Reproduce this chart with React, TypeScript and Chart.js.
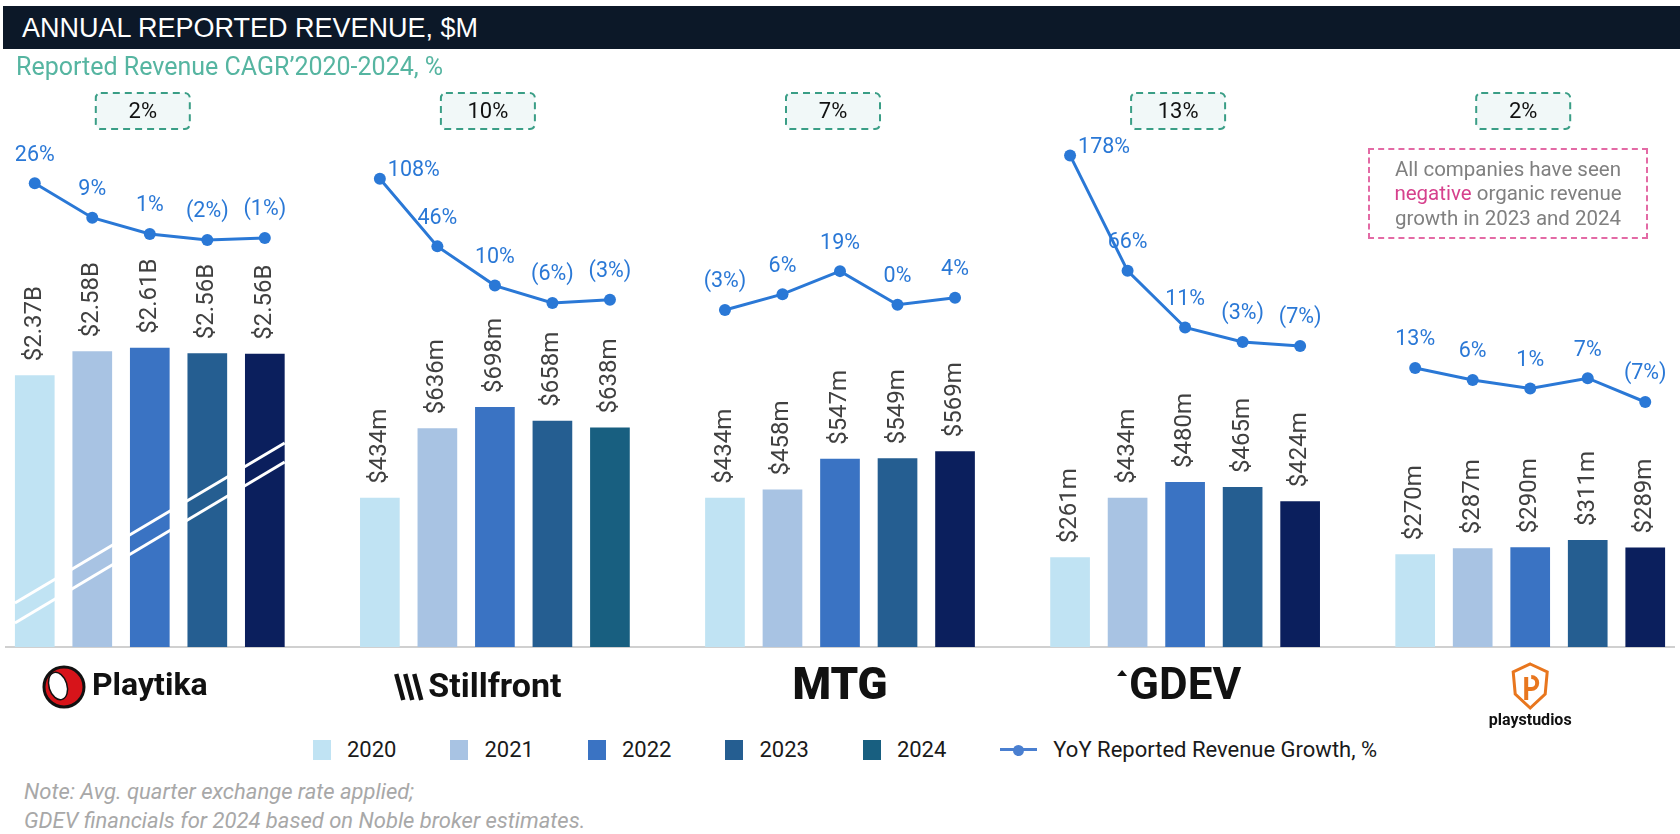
import React, { useEffect, useRef } from 'react';
import { Chart, registerables } from 'chart.js';

Chart.register(...registerables);

// ---------- data ----------
const COMPANIES = ['Playtika', 'Stillfront', 'MTG', 'GDEV', 'playstudios'];
const YEARS = ['2020', '2021', '2022', '2023', '2024'];

// Annual reported revenue, $m
const REVENUE_PLAYTIKA = [2370, 2580, 2610, 2563, 2557];
const REVENUE_STILLFRONT = [434, 636, 698, 658, 638];
const REVENUE_MTG = [434, 458, 547, 549, 569];
const REVENUE_GDEV = [261, 434, 480, 465, 424];
const REVENUE_PLAYSTUDIOS = [270, 287, 290, 311, 289];

// YoY reported revenue growth, %
const GROWTH_PLAYTIKA = [26, 9, 1, -2, -1];
const GROWTH_STILLFRONT = [108, 46, 10, -6, -3];
const GROWTH_MTG = [-3, 6, 19, 0, 4];
const GROWTH_GDEV = [178, 66, 11, -3, -7];
const GROWTH_PLAYSTUDIOS = [13, 6, 1, 7, -7];

// Reported revenue CAGR 2020-2024, %
const CAGR = [2, 10, 7, 13, 2];

const REVENUES = [REVENUE_PLAYTIKA, REVENUE_STILLFRONT, REVENUE_MTG, REVENUE_GDEV, REVENUE_PLAYSTUDIOS];
const GROWTHS = [GROWTH_PLAYTIKA, GROWTH_STILLFRONT, GROWTH_MTG, GROWTH_GDEV, GROWTH_PLAYSTUDIOS];

// ---------- styles / layout ----------
const YEAR_COLORS = ['#c0e3f3', '#a8c3e3', '#3a73c3', '#255e91', '#0b1f5d'];
const STILLFRONT_2024 = '#185f80';
const LEGEND_COLORS = ['#c0e3f3', '#a8c3e3', '#3a73c3', '#255e91', '#185f80'];
const LINE_BLUE = '#2a78d6';
const PLAYTIKA_BREAK = 3; // Playtika bars drawn at 1/3 scale (broken axis)
const BAR_AXIS_MAX = 1474;
const GROWTH_AXES = [
  [-202.5, 47.3],
  [-321.6, 143.6],
  [-193.4, 93.1],
  [-299.2, 193.0],
  [-151.1, 147.1],
];
const LOGO_FONTS = [
  { family: 'Roboto', weight: 'bold', size: 32, lineHeight: 1.2 },
  { family: 'Roboto', weight: 'bold', size: 34, lineHeight: 1.2 },
  { family: 'Roboto', weight: '900', size: 44, lineHeight: 0.9 },
  { family: 'Roboto', weight: 'bold', size: 44, lineHeight: 0.9 },
  { family: 'Roboto', weight: 'bold', size: 16, lineHeight: 2.2 },
];
const SLOT = YEARS.length + 1;

const fmtRevenue = (v: number) => (v >= 1000 ? `$${(v / 1000).toFixed(2)}B` : `$${v}m`);
const fmtGrowth = (v: number) => (v < 0 ? `(${-v}%)` : `${v}%`);

const LABELS: string[] = [];
COMPANIES.forEach((c, ci) => {
  YEARS.forEach((y) => LABELS.push(`${c} ${y}`));
  if (ci < COMPANIES.length - 1) LABELS.push('');
});

const decorPlugin = {
  id: 'decor',
  afterDatasetsDraw(chart: any) {
    const ctx = chart.ctx;
    const area = chart.chartArea;
    const xs = chart.scales.x;
    ctx.save();

    // axis-break marker on Playtika bars
    const first = chart.getDatasetMeta(0).data[0];
    const last = chart.getDatasetMeta(YEARS.length - 1).data[YEARS.length - 1];
    const left = first.x - first.width / 2;
    const right = last.x + last.width / 2;
    ctx.strokeStyle = '#ffffff';
    ctx.lineWidth = 3;
    [[44, 204], [24, 185]].forEach(([a, b]) => {
      ctx.beginPath();
      ctx.moveTo(left, area.bottom - a);
      ctx.lineTo(right, area.bottom - b);
      ctx.stroke();
    });

    // bar value labels (rotated)
    for (let d = 0; d < YEARS.length; d++) {
      const meta = chart.getDatasetMeta(d);
      meta.data.forEach((el: any, i: number) => {
        if (chart.data.datasets[d].data[i] == null) return;
        const c = Math.floor(i / SLOT);
        const v = REVENUES[c][d];
        ctx.save();
        ctx.translate(el.x, el.y - 14);
        ctx.rotate(-Math.PI / 2);
        ctx.font = '24px Roboto';
        ctx.fillStyle = '#404040';
        ctx.textAlign = 'left';
        ctx.textBaseline = 'middle';
        ctx.fillText(fmtRevenue(v), 0, 0);
        ctx.restore();
      });
    }

    // growth labels
    for (let c = 0; c < COMPANIES.length; c++) {
      const d = YEARS.length + c;
      const meta = chart.getDatasetMeta(d);
      meta.data.forEach((el: any, i: number) => {
        const v = chart.data.datasets[d].data[i];
        if (v == null) return;
        ctx.font = '21.5px Roboto';
        ctx.fillStyle = LINE_BLUE;
        ctx.textBaseline = 'middle';
        if (v >= 100) {
          ctx.textAlign = 'left';
          ctx.fillText(fmtGrowth(v), el.x + 8, el.y - 8);
        } else {
          ctx.textAlign = 'center';
          ctx.fillText(fmtGrowth(v), el.x, el.y - 28);
        }
      });
    }

    // CAGR boxes
    COMPANIES.forEach((_, c) => {
      const cx = xs.getPixelForValue(c * SLOT + 2) - 7;
      ctx.beginPath();
      ctx.setLineDash([7, 5]);
      ctx.lineWidth = 2;
      ctx.strokeStyle = '#3a9e86';
      ctx.fillStyle = '#f1f8f8';
      ctx.roundRect(cx - 47, 93, 94, 36, 5);
      ctx.fill();
      ctx.stroke();
      ctx.setLineDash([]);
      ctx.font = '22px Roboto';
      ctx.fillStyle = '#111111';
      ctx.textAlign = 'center';
      ctx.textBaseline = 'middle';
      ctx.fillText(`${CAGR[c]}%`, cx, 112);
    });

    // simple logo marks next to company names
    const y0 = area.bottom + 40;
    const tickX = (c: number) => xs.getPixelForValue(c * SLOT + 2);
    const textW = (c: number) => {
      const f = LOGO_FONTS[c];
      ctx.font = `${f.weight} ${f.size}px ${f.family}`;
      return ctx.measureText(COMPANIES[c]).width;
    };
    // Playtika
    {
      const lx = tickX(0) - textW(0) / 2 - 28;
      ctx.beginPath();
      ctx.arc(lx, y0, 20, 0, Math.PI * 2);
      ctx.fillStyle = '#d7141a';
      ctx.fill();
      ctx.lineWidth = 3;
      ctx.strokeStyle = '#111';
      ctx.stroke();
      ctx.beginPath();
      ctx.ellipse(lx - 6, y0 - 1, 9, 14, -0.3, 0, Math.PI * 2);
      ctx.fillStyle = '#ffffff';
      ctx.fill();
      ctx.lineWidth = 1.5;
      ctx.stroke();
    }
    // Stillfront
    {
      const lx = tickX(1) - textW(1) / 2 - 32;
      ctx.strokeStyle = '#111';
      ctx.lineWidth = 4.5;
      for (let k = 0; k < 3; k++) {
        ctx.beginPath();
        ctx.moveTo(lx + k * 9, y0 - 13);
        ctx.lineTo(lx + k * 9 + 7, y0 + 13);
        ctx.stroke();
      }
    }
    // GDEV
    {
      const lx = tickX(3) - textW(3) / 2;
      ctx.beginPath();
      ctx.moveTo(lx - 12, y0 - 11);
      ctx.lineTo(lx - 7, y0 - 17);
      ctx.lineTo(lx - 2, y0 - 11);
      ctx.closePath();
      ctx.fillStyle = '#111';
      ctx.fill();
    }
    // playstudios shield
    {
      const cx = tickX(4);
      const top = area.bottom + 17;
      ctx.beginPath();
      ctx.moveTo(cx, top);
      ctx.lineTo(cx + 17, top + 8);
      ctx.lineTo(cx + 15, top + 30);
      ctx.lineTo(cx, top + 44);
      ctx.lineTo(cx - 15, top + 30);
      ctx.lineTo(cx - 17, top + 8);
      ctx.closePath();
      ctx.fillStyle = '#ffffff';
      ctx.fill();
      ctx.strokeStyle = '#e8761e';
      ctx.lineWidth = 3;
      ctx.stroke();
      ctx.lineWidth = 4;
      ctx.beginPath();
      ctx.moveTo(cx - 4, top + 13);
      ctx.lineTo(cx - 4, top + 36);
      ctx.stroke();
      ctx.beginPath();
      ctx.arc(cx + 1, top + 19, 6, -Math.PI / 2, Math.PI / 2);
      ctx.lineTo(cx - 4, top + 25);
      ctx.stroke();
    }
    ctx.restore();
  },
};

function RevenueChart() {
  const ref = useRef<HTMLCanvasElement | null>(null);
  useEffect(() => {
    if (!ref.current) return;
    const barSets = YEARS.map((yr, y) => ({
      type: 'bar' as const,
      label: yr,
      data: LABELS.map((_, i) => {
        const c = Math.floor(i / SLOT);
        if (i % SLOT !== y) return null;
        const v = REVENUES[c][y];
        return c === 0 ? v / PLAYTIKA_BREAK : v;
      }),
      backgroundColor: (ctx: any) =>
        y === YEARS.length - 1 && Math.floor(ctx.dataIndex / SLOT) === 1 ? STILLFRONT_2024 : YEAR_COLORS[y],
      grouped: false,
      barPercentage: 0.69,
      categoryPercentage: 1,
      yAxisID: 'y',
      order: 1,
    }));
    const lineSets = COMPANIES.map((name, c) => ({
      type: 'line' as const,
      label: `YoY Reported Revenue Growth, % – ${name}`,
      data: LABELS.map((_, i) =>
        Math.floor(i / SLOT) === c && i % SLOT < YEARS.length ? GROWTHS[c][i % SLOT] : null
      ),
      borderColor: LINE_BLUE,
      backgroundColor: LINE_BLUE,
      pointBackgroundColor: LINE_BLUE,
      pointBorderWidth: 0,
      pointRadius: 6,
      pointHoverRadius: 6,
      borderWidth: 3,
      spanGaps: false,
      tension: 0,
      yAxisID: `g${c}`,
      order: 0,
    }));
    const growthScales: any = {};
    GROWTH_AXES.forEach(([min, max], c) => {
      growthScales[`g${c}`] = { type: 'linear', display: false, min, max };
    });

    const chart = new Chart(ref.current, {
      type: 'bar',
      data: { labels: LABELS, datasets: [...barSets, ...lineSets] as any },
      options: {
        animation: false,
        responsive: false,
        events: [],
        layout: { padding: { top: 140, left: 1, right: 3, bottom: 0 } },
        plugins: { legend: { display: false }, tooltip: { enabled: false } },
        scales: {
          x: {
            type: 'category',
            offset: true,
            grid: { display: true, drawOnChartArea: false, drawTicks: false, color: 'rgba(0,0,0,0)' },
            border: { display: true, color: '#d0d0d0', width: 2 },
            ticks: {
              autoSkip: false,
              maxRotation: 0,
              minRotation: 0,
              padding: 21,
              color: '#111111',
              font: (ctx: any) => LOGO_FONTS[Math.floor((ctx.index ?? 0) / SLOT)] || LOGO_FONTS[0],
              callback: (_v: any, i: number) => {
                if (i % SLOT !== 2) return '';
                const c = Math.floor(i / SLOT);
                return c === 4 ? ['', COMPANIES[c]] : COMPANIES[c];
              },
            },
            afterFit: (s: any) => {
              s.height = 83;
            },
          },
          y: { type: 'linear', display: false, min: 0, max: BAR_AXIS_MAX },
          ...growthScales,
        },
      },
      plugins: [decorPlugin],
    });
    return () => chart.destroy();
  }, []);
  return <canvas ref={ref} width={1680} height={730} style={{ position: 'absolute', left: 0, top: 0 }} />;
}

export default function App() {
  return (
    <div
      style={{
        position: 'absolute',
        left: 0,
        top: 0,
        width: 1680,
        height: 834,
        overflow: 'hidden',
        background: '#ffffff',
        fontFamily: 'Roboto, sans-serif',
      }}
    >
      <RevenueChart />
      <div
        style={{
          position: 'absolute',
          left: 3,
          top: 6,
          width: 1677,
          height: 43,
          background: '#0c1828',
          color: '#ffffff',
          fontFamily: '"Liberation Sans", Arial, sans-serif',
          fontSize: 27,
          lineHeight: '44px',
          paddingLeft: 19,
          boxSizing: 'border-box',
          whiteSpace: 'nowrap',
        }}
      >
        ANNUAL REPORTED REVENUE, $M
      </div>
      <div
        style={{
          position: 'absolute',
          left: 16,
          top: 52,
          fontSize: 25,
          color: '#56b5a1',
          whiteSpace: 'nowrap',
        }}
      >
        Reported Revenue CAGR’2020-2024, %
      </div>
      <div
        style={{
          position: 'absolute',
          left: 1368,
          top: 148,
          width: 280,
          height: 91,
          boxSizing: 'border-box',
          border: '2px dashed #e36aa5',
          display: 'flex',
          alignItems: 'center',
          justifyContent: 'center',
          textAlign: 'center',
          fontSize: 20.5,
          lineHeight: '24.5px',
          color: '#808080',
        }}
      >
        <div>
          All companies have seen
          <br />
          <span style={{ color: '#d6418d' }}>negative</span> organic revenue
          <br />
          growth in 2023 and 2024
        </div>
      </div>
      <div
        style={{
          position: 'absolute',
          left: 313,
          top: 737,
          display: 'flex',
          alignItems: 'center',
          fontSize: 22,
          color: '#1a1a1a',
          whiteSpace: 'nowrap',
        }}
      >
        {YEARS.map((yr, i) => (
          <div key={yr} style={{ display: 'flex', alignItems: 'center', marginRight: 54 }}>
            <span style={{ display: 'inline-block', width: 18, height: 20, background: LEGEND_COLORS[i] }} />
            <span style={{ marginLeft: 16 }}>{yr}</span>
          </div>
        ))}
        <div style={{ display: 'flex', alignItems: 'center' }}>
          <span style={{ position: 'relative', display: 'inline-block', width: 37, height: 20 }}>
            <span
              style={{ position: 'absolute', left: 0, top: 8.5, width: 37, height: 3, background: '#4a7fd0' }}
            />
            <span
              style={{
                position: 'absolute',
                left: 13,
                top: 5,
                width: 11,
                height: 11,
                borderRadius: '50%',
                background: '#4a7fd0',
              }}
            />
          </span>
          <span style={{ marginLeft: 16 }}>YoY Reported Revenue Growth, %</span>
        </div>
      </div>
      <div
        style={{
          position: 'absolute',
          left: 24,
          top: 777,
          fontSize: 22,
          fontStyle: 'italic',
          color: '#a8a8a8',
          lineHeight: '29px',
          whiteSpace: 'nowrap',
        }}
      >
        Note: Avg. quarter exchange rate applied;
        <br />
        GDEV financials for 2024 based on Noble broker estimates.
      </div>
    </div>
  );
}
